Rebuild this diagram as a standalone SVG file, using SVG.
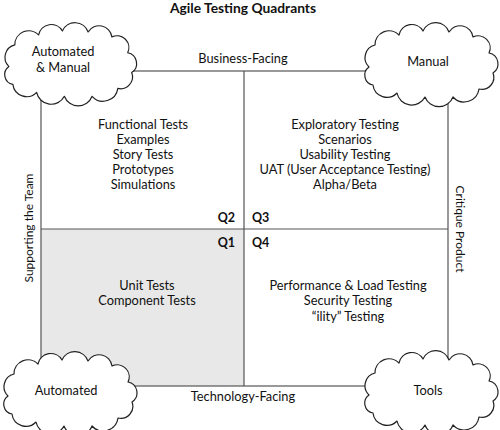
<svg xmlns="http://www.w3.org/2000/svg" width="500" height="430" viewBox="0 0 500 430">
<defs>
<style>
.t{font-family:Lato,"Noto Sans","DejaVu Sans",sans-serif;font-size:12.8px;fill:#111;text-anchor:middle}
.a{font-size:12px}
.b{font-weight:bold}
.q{font-family:Lato,"Noto Sans",sans-serif;font-size:12.5px;font-weight:bold;fill:#111}
.cloud{fill:#fff;stroke:#222;stroke-width:1.2;stroke-linejoin:round}
.ln{stroke:#555;stroke-width:1.2;fill:none}
</style>
<path id="cl" d="M8,40 A13,13 0 0 1 14,18 A14,14 0 0 1 38,8 A13,13 0 0 1 62,4 A14,14 0 0 1 88,5 A13,13 0 0 1 112,10 A12,12 0 0 1 128,26 A11,11 0 0 1 132,46 A12,12 0 0 1 118,62 A15,15 0 0 1 92,70 A15,15 0 0 1 64,70 A15,15 0 0 1 36,66 A14,14 0 0 1 12,58 A10,10 0 0 1 8,40 Z"/>
</defs>
<rect width="500" height="430" fill="#fff"/>
<text class="t b" x="243" y="13" style="font-size:13.8px">Agile Testing Quadrants</text>
<g id="q1"><rect x="41" y="229" width="203" height="157" fill="#e8e8e8"/>
<text class="t" x="147" y="290">Unit Tests</text>
<text class="t" x="147" y="305">Component Tests</text>
<text class="q" x="235" y="247" text-anchor="end">Q1</text></g>
<g id="q2">
<text class="t" x="143" y="129">Functional Tests</text>
<text class="t" x="143" y="144">Examples</text>
<text class="t" x="143" y="159">Story Tests</text>
<text class="t" x="143" y="174">Prototypes</text>
<text class="t" x="143" y="189">Simulations</text>
<text class="q" x="235" y="222" text-anchor="end">Q2</text></g>
<g id="q3">
<text class="t" x="345" y="129">Exploratory Testing</text>
<text class="t" x="345" y="144">Scenarios</text>
<text class="t" x="345" y="159">Usability Testing</text>
<text class="t" x="345" y="174">UAT (User Acceptance Testing)</text>
<text class="t" x="345" y="189">Alpha/Beta</text>
<text class="q" x="252" y="222">Q3</text></g>
<g id="q4">
<text class="t" x="348" y="290">Performance &amp; Load Testing</text>
<text class="t" x="348" y="305">Security Testing</text>
<text class="t" x="348" y="321">“ility” Testing</text>
<text class="q" x="252" y="247">Q4</text></g>
<g id="connectors">
<rect class="ln" x="41" y="71" width="407" height="315"/>
<line class="ln" x1="244" y1="71" x2="244" y2="386"/>
<line class="ln" x1="41" y1="229" x2="448" y2="229"/>
</g>
<g id="axes">
<text class="t" x="243" y="63">Business-Facing</text>
<text class="t" x="243" y="401">Technology-Facing</text>
<text class="t a" transform="translate(33,228) rotate(-90)">Supporting the Team</text>
<text class="t a" transform="translate(456,229) rotate(90)">Critique Product</text>
</g>
<g id="cloud-tl"><use href="#cl" class="cloud" transform="translate(1,27) scale(0.99,0.99)"/>
<text class="t" x="63" y="56">Automated</text><text class="t" x="63" y="72">&amp; Manual</text></g>
<g id="cloud-tr"><use href="#cl" class="cloud" transform="translate(361,27)"/>
<text class="t" x="428" y="66">Manual</text></g>
<g id="cloud-bl"><use href="#cl" class="cloud" transform="translate(0,356)"/>
<text class="t" x="66" y="395">Automated</text></g>
<g id="cloud-br"><use href="#cl" class="cloud" transform="translate(361,355)"/>
<text class="t" x="428" y="395">Tools</text></g>
</svg>
